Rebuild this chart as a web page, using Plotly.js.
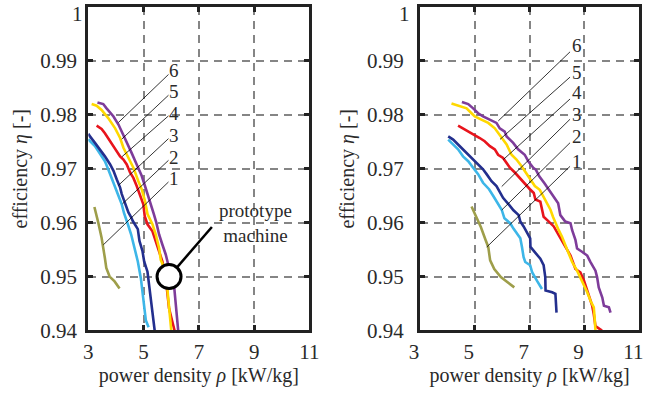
<!DOCTYPE html>
<html><head><meta charset="utf-8">
<script src="https://cdn.plot.ly/plotly-3.0.1.min.js"></script>
<style>html,body{margin:0;padding:0;background:#fff}#chart{width:648px;height:394px}</style>
</head><body><div id="chart"></div>
<script>
// ---- categories / labels ----
const seriesNames = ['1', '2', '3', '4', '5', '6'];
const seriesColors = ['#9e9e4a', '#3db6e8', '#232f8e', '#e8141c', '#ffd800', '#7e3c9a'];
const xTickVals = [3, 5, 7, 9, 11];
const xTickText = ['3', '5', '7', '9', '11'];
const yTickVals = [0.94, 0.95, 0.96, 0.97, 0.98, 0.99, 1];
const yTickText = ['0.94', '0.95', '0.96', '0.97', '0.98', '0.99', ''];
const yTopLabel = '1';   // top y tick label, drawn as an annotation so it stays inside the page
const xTitle = 'power density <i>ρ</i> [kW/kg]';
const yTitle = 'efficiency <i>η</i> [-]';
const protoLabel = 'prototype<br>machine';

// ---- left panel data (power density, efficiency) ----
const L1x = [3.22, 3.30, 3.36, 3.48, 3.54, 3.60, 3.65, 3.77, 3.95, 4.13];
const L1y = [0.9629, 0.9615, 0.9600, 0.9572, 0.9556, 0.9534, 0.9516, 0.9500, 0.9491, 0.9478];
const L2x = [3.00, 3.06, 3.24, 3.42, 3.60, 3.72, 3.85, 3.97, 4.09, 4.21, 4.29, 4.43, 4.55, 4.67, 4.79, 4.90, 4.96, 5.02, 5.08, 5.18];
const L2y = [0.9755, 0.9751, 0.9742, 0.9729, 0.9714, 0.9699, 0.9683, 0.9665, 0.9650, 0.9634, 0.9618, 0.9597, 0.9578, 0.9553, 0.9528, 0.9497, 0.9472, 0.9441, 0.9419, 0.9406];
const L3x = [3.00, 3.06, 3.24, 3.42, 3.60, 3.79, 3.91, 4.03, 4.15, 4.21, 4.33, 4.45, 4.55, 4.61, 4.79, 4.85, 4.96, 5.02, 5.14, 5.20, 5.26, 5.32, 5.40];
const L3y = [0.9765, 0.9760, 0.9748, 0.9736, 0.9723, 0.9708, 0.9696, 0.9680, 0.9665, 0.9653, 0.9634, 0.9619, 0.9610, 0.9603, 0.9588, 0.9566, 0.9547, 0.9528, 0.9509, 0.9484, 0.9459, 0.9441, 0.9400];
const L4x = [3.30, 3.48, 3.60, 3.79, 3.97, 4.15, 4.27, 4.39, 4.51, 4.63, 4.75, 4.87, 4.99, 5.04, 5.14, 5.32, 5.44, 5.56, 5.68, 5.80, 5.86, 5.92, 6.04, 6.12];
const L4y = [0.9780, 0.9774, 0.9766, 0.9751, 0.9739, 0.9723, 0.9717, 0.9708, 0.9693, 0.9683, 0.9668, 0.9650, 0.9634, 0.9612, 0.9597, 0.9584, 0.9566, 0.9547, 0.9528, 0.9497, 0.9472, 0.9441, 0.9416, 0.9400];
const L5x = [3.12, 3.30, 3.48, 3.72, 3.97, 4.15, 4.27, 4.45, 4.63, 4.81, 4.93, 5.05, 5.14, 5.32, 5.44, 5.56, 5.62, 5.80, 5.86, 5.92, 5.96, 6.00];
const L5y = [0.9820, 0.9817, 0.9809, 0.9794, 0.9775, 0.9757, 0.9739, 0.9720, 0.9702, 0.9677, 0.9662, 0.9640, 0.9616, 0.9597, 0.9578, 0.9553, 0.9531, 0.9509, 0.9478, 0.9447, 0.9419, 0.9400];
const L6x = [3.33, 3.54, 3.66, 3.91, 4.09, 4.27, 4.39, 4.57, 4.75, 4.93, 5.05, 5.17, 5.29, 5.37, 5.46, 5.56, 5.68, 5.80, 5.92, 6.04, 6.10, 6.15, 6.21, 6.25];
const L6y = [0.9823, 0.9820, 0.9812, 0.9797, 0.9782, 0.9763, 0.9748, 0.9729, 0.9708, 0.9687, 0.9668, 0.9650, 0.9631, 0.9616, 0.9600, 0.9578, 0.9559, 0.9541, 0.9516, 0.9500, 0.9484, 0.9453, 0.9428, 0.9400];

// ---- right panel data ----
const R1x = [4.88, 5.04, 5.22, 5.40, 5.49, 5.56, 5.71, 5.95, 6.20, 6.44];
const R1y = [0.9630, 0.9611, 0.9592, 0.9567, 0.9555, 0.9530, 0.9514, 0.9499, 0.9489, 0.9480];
const R2x = [4.03, 4.21, 4.39, 4.57, 4.76, 4.94, 5.12, 5.30, 5.52, 5.68, 5.84, 5.98, 6.08, 6.29, 6.41, 6.54, 6.66, 6.72, 6.78, 6.84, 7.02, 7.09, 7.15, 7.27, 7.45];
const R2y = [0.9754, 0.9745, 0.9736, 0.9723, 0.9714, 0.9702, 0.9690, 0.9674, 0.9662, 0.9649, 0.9636, 0.9624, 0.9608, 0.9599, 0.9589, 0.9580, 0.9571, 0.9555, 0.9536, 0.9527, 0.9521, 0.9508, 0.9502, 0.9492, 0.9477];
const R3x = [4.03, 4.21, 4.39, 4.57, 4.76, 4.94, 5.12, 5.30, 5.43, 5.61, 5.79, 5.91, 6.03, 6.25, 6.41, 6.60, 6.66, 6.78, 6.90, 7.02, 7.03, 7.21, 7.39, 7.51, 7.57, 7.58, 7.82, 7.94, 7.98];
const R3y = [0.9760, 0.9754, 0.9745, 0.9736, 0.9726, 0.9717, 0.9708, 0.9699, 0.9690, 0.9677, 0.9668, 0.9656, 0.9646, 0.9633, 0.9623, 0.9614, 0.9602, 0.9593, 0.9583, 0.9571, 0.9555, 0.9543, 0.9533, 0.9521, 0.9499, 0.9474, 0.9471, 0.9468, 0.9433];
const R4x = [4.39, 4.57, 4.76, 5.00, 5.18, 5.36, 5.55, 5.73, 5.85, 6.03, 6.16, 6.28, 6.46, 6.64, 6.82, 7.01, 7.15, 7.21, 7.39, 7.45, 7.51, 7.70, 7.88, 8.06, 8.24, 8.37, 8.49, 8.67, 8.85, 8.98, 9.10, 9.16, 9.28, 9.34, 9.40, 9.64];
const R4y = [0.9780, 0.9775, 0.9769, 0.9763, 0.9757, 0.9751, 0.9742, 0.9736, 0.9726, 0.9720, 0.9711, 0.9702, 0.9693, 0.9683, 0.9671, 0.9662, 0.9655, 0.9643, 0.9639, 0.9624, 0.9611, 0.9602, 0.9593, 0.9577, 0.9561, 0.9552, 0.9539, 0.9514, 0.9508, 0.9493, 0.9474, 0.9461, 0.9446, 0.9430, 0.9408, 0.9400];
const R5x = [4.15, 4.39, 4.70, 4.88, 5.00, 5.24, 5.49, 5.73, 5.85, 5.97, 6.16, 6.34, 6.52, 6.70, 6.89, 7.07, 7.19, 7.37, 7.50, 7.62, 7.76, 7.85, 7.94, 8.06, 8.18, 8.30, 8.43, 8.55, 8.73, 8.85, 8.98, 9.10, 9.22, 9.34, 9.37, 9.40];
const R5y = [0.9821, 0.9817, 0.9812, 0.9803, 0.9797, 0.9791, 0.9785, 0.9775, 0.9766, 0.9757, 0.9745, 0.9726, 0.9717, 0.9705, 0.9690, 0.9677, 0.9668, 0.9661, 0.9649, 0.9636, 0.9624, 0.9611, 0.9599, 0.9586, 0.9574, 0.9558, 0.9543, 0.9527, 0.9511, 0.9499, 0.9483, 0.9471, 0.9455, 0.9443, 0.9424, 0.9400];
const R6x = [4.53, 4.76, 4.94, 5.12, 5.30, 5.55, 5.79, 5.91, 6.09, 6.16, 6.40, 6.58, 6.82, 6.95, 7.13, 7.23, 7.35, 7.54, 7.70, 7.86, 8.04, 8.12, 8.30, 8.49, 8.55, 8.67, 8.73, 8.91, 9.10, 9.22, 9.40, 9.46, 9.52, 9.65, 9.71, 9.89, 9.95];
const R6y = [0.9824, 0.9820, 0.9812, 0.9803, 0.9797, 0.9791, 0.9785, 0.9775, 0.9769, 0.9760, 0.9748, 0.9736, 0.9726, 0.9714, 0.9702, 0.9698, 0.9686, 0.9673, 0.9661, 0.9649, 0.9636, 0.9614, 0.9602, 0.9599, 0.9586, 0.9568, 0.9552, 0.9546, 0.9539, 0.9527, 0.9511, 0.9499, 0.9480, 0.9461, 0.9446, 0.9443, 0.9433];

// prototype machine point
const protoX = [5.92];
const protoY = [0.95];

const leftX = [L1x, L2x, L3x, L4x, L5x, L6x], leftY = [L1y, L2y, L3y, L4y, L5y, L6y];
const rightX = [R1x, R2x, R3x, R4x, R5x, R6x], rightY = [R1y, R2y, R3y, R4y, R5y, R6y];

// ---- layout constants (label placement) ----
const FONT = 'Liberation Serif, Times New Roman, serif';
const TXT = '#2a2a2a';
const leftLab = {x: 6.105, y: [0.96816, 0.97216, 0.97615, 0.98024, 0.98424, 0.98823],
  lx0: 5.90, ly0: [0.96755, 0.97156, 0.97559, 0.97981, 0.98364, 0.98749],
  lx1: [3.543, 4.239, 4.087, 4.221, 4.210, 4.087], ly1: [0.95589, 0.96351, 0.96691, 0.97225, 0.97550, 0.97857]};
const rightLab = {x: 8.72, y: [0.97139, 0.97607, 0.98013, 0.98406, 0.98794, 0.99292],
  lx0: 8.474, ly0: [0.97045, 0.97483, 0.97919, 0.98294, 0.98700, 0.99169],
  lx1: [5.434, 5.982, 5.982, 6.040, 5.920, 5.858], ly1: [0.95547, 0.96234, 0.96670, 0.97170, 0.97545, 0.97888]};

const traces = [];
for (let i = 0; i < 6; i++) {
  traces.push({x: leftX[i], y: leftY[i], xaxis: 'x', yaxis: 'y', type: 'scatter', mode: 'lines',
    name: seriesNames[i], line: {color: seriesColors[i], width: 2.6}, showlegend: false, hoverinfo: 'skip'});
  traces.push({x: rightX[i], y: rightY[i], xaxis: 'x2', yaxis: 'y2', type: 'scatter', mode: 'lines',
    name: seriesNames[i], line: {color: seriesColors[i], width: 2.6}, showlegend: false, hoverinfo: 'skip'});
}
traces.push({x: protoX, y: protoY, xaxis: 'x', yaxis: 'y', type: 'scatter', mode: 'markers', cliponaxis: false,
  marker: {size: 24, color: '#ffffff', line: {color: '#000', width: 3}}, showlegend: false, hoverinfo: 'skip'});

const GRID = {showgrid: true, gridcolor: '#858585', gridwidth: 2, griddash: '8px,6px', zeroline: false,
  showline: true, linewidth: 3, linecolor: '#222', mirror: 'ticks', ticks: 'inside', ticklen: 5, tickwidth: 3, tickcolor: '#222',
  automargin: false, fixedrange: true, tickmode: 'array'};
function xax(domain, anchor, shift) {
  return Object.assign({}, GRID, {domain: domain, anchor: anchor, range: [3, 11], tickvals: xTickVals, ticktext: xTickText,
    tickfont: {family: FONT, size: 21, color: TXT}, ticklabelshift: shift,
    title: {text: xTitle, font: {family: FONT, size: 20, color: TXT}, standoff: 2}});
}
function yax(domain, anchor, stand) {
  return Object.assign({}, GRID, {domain: domain, anchor: anchor, range: [0.94, 1], tickvals: yTickVals, ticktext: yTickText,
    tickfont: {family: FONT, size: 21, color: TXT}, ticklabelstandoff: stand,
    title: {text: yTitle, font: {family: FONT, size: 20, color: TXT}, standoff: 8}});
}

const shapes = [], annotations = [];
[[leftLab, 'x', 'y'], [rightLab, 'x2', 'y2']].forEach(([lab, xr, yr]) => {
  for (let i = 0; i < 6; i++) {
    shapes.push({type: 'line', xref: xr, yref: yr, x0: lab.lx0, y0: lab.ly0[i], x1: lab.lx1[i], y1: lab.ly1[i],
      line: {color: '#000', width: 0.8}, layer: 'above'});
    annotations.push({xref: xr, yref: yr, x: lab.x, y: lab.y[i], text: seriesNames[i], showarrow: false,
      font: {family: FONT, size: 19, color: TXT}, xanchor: 'center', yanchor: 'middle'});
  }
});
shapes.push({type: 'line', xref: 'x', yref: 'y', x0: protoX[0], y0: protoY[0], x1: 7.47, y1: 0.9592,
  line: {color: '#000', width: 2.5}, layer: 'between'});
annotations.push({xref: 'x', yref: 'y', x: 9.04, y: 0.9600, text: protoLabel, showarrow: false,
  font: {family: FONT, size: 19, color: TXT}, xanchor: 'center', yanchor: 'middle'});
// top "1" tick labels of both efficiency axes
[0.1290, 0.6350].forEach(px => {
  annotations.push({xref: 'paper', yref: 'paper', x: px, y: 1, text: yTopLabel, showarrow: false,
    font: {family: FONT, size: 21, color: TXT}, xanchor: 'right', yanchor: 'top', yshift: -1, borderpad: 0});
});

const layout = {
  width: 648, height: 394, margin: {l: 0, r: 0, t: 0, b: 0}, paper_bgcolor: '#fff', plot_bgcolor: '#fff',
  showlegend: false,
  xaxis: xax([0.1363, 0.4776], 'y', 0),
  yaxis: yax([0.1612, 0.9822], 'x', 4),
  xaxis2: xax([0.6481, 0.9866], 'y2', -6),
  yaxis2: yax([0.1612, 0.9822], 'x2', 9),
  shapes: shapes, annotations: annotations
};
Plotly.newPlot('chart', traces, layout, {staticPlot: true, displayModeBar: false});
</script></body></html>
